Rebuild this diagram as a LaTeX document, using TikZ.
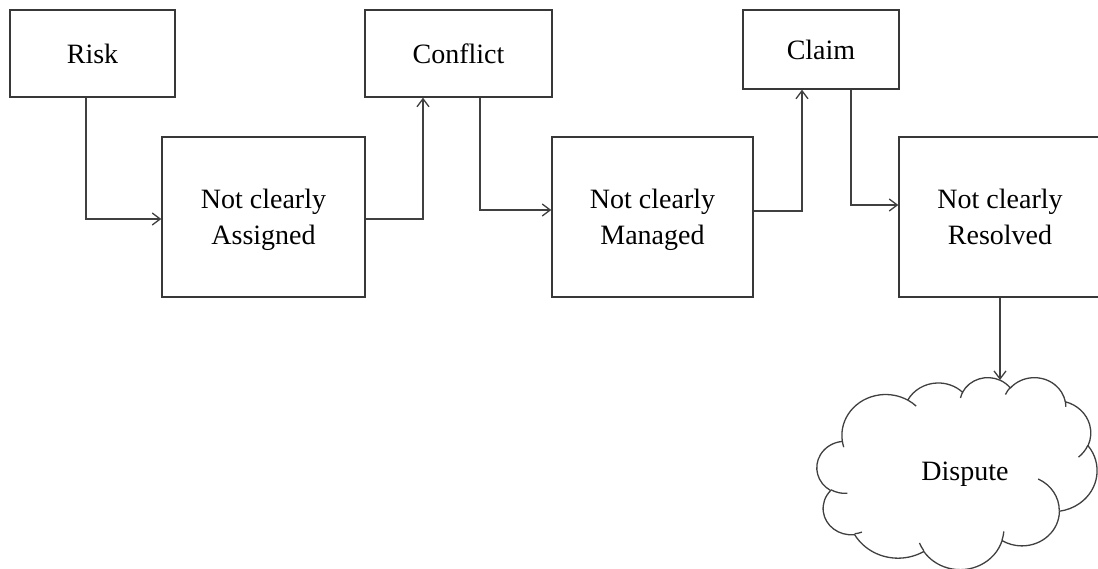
\documentclass[tikz,border=0pt]{standalone}
\usepackage{fontspec}
\setmainfont{Liberation Serif}
\usetikzlibrary{arrows.meta}

% Elliptical arc given by its radii and by the start / sweep of the
% geometric (polar) angle, converted to TikZ's parametric angles.
\newcommand\cloudarc[4]{%
  \pgfextra{%
    \pgfmathparse{atan2((#1)*sin(#3),(#2)*cos(#3))}\xdef\cloudta{\pgfmathresult}%
    \pgfmathparse{atan2((#1)*sin((#3)+(#4)),(#2)*cos((#3)+(#4)))}\xdef\cloudtb{\pgfmathresult}%
    \pgfmathparse{\cloudtb-\cloudta}\xdef\cloudtd{\pgfmathresult}%
    \pgfmathparse{\cloudtd-360*round((\cloudtd-(#4))/360)}\xdef\cloudtd{\pgfmathresult}%
  }%
  arc[start angle=\cloudta, delta angle=\cloudtd, x radius=#1, y radius=#2]%
}

\tikzset{
  boxnode/.style={draw=black!78, line width=1.4pt, fill=white, align=center,
    inner sep=0pt, text depth=0pt, font=\fontsize{28}{36}\selectfont},
  conn/.style={draw=black!75, line width=1.3pt,
    -{Straight Barb[length=8pt,width=12pt]}},
  cloudline/.style={draw=black!75, line width=1.3pt, line join=round},
  label/.style={inner sep=0pt, font=\fontsize{28}{36}\selectfont}
}

\begin{document}
\begin{tikzpicture}[x=1pt, y=-1pt]
  \useasboundingbox (0,0) rectangle (1098,569);
  \clip (0,0) rectangle (1098,569);

  % boxes
  \node[boxnode, minimum width=165pt, minimum height=87pt]  (risk)     at (92.5,53.5)  {Risk};
  \node[boxnode, minimum width=203pt, minimum height=160pt] (assigned) at (263.5,217)  {Not clearly\\Assigned};
  \node[boxnode, minimum width=187pt, minimum height=87pt]  (conflict) at (458.5,53.5) {Conflict};
  \node[boxnode, minimum width=201pt, minimum height=160pt] (managed)  at (652.5,217)  {Not clearly\\Managed};
  \node[boxnode, minimum width=156pt, minimum height=79pt]  (claim)    at (821,49.5)   {Claim};
  \node[boxnode, minimum width=202pt, minimum height=160pt] (resolved) at (1000,217)   {Not clearly\\Resolved};

  % cloud outline with its inner folds
  \begin{scope}[shift={(817,377)}, x=0.6481pt, y=-0.4444pt]
    \draw[cloudline] (39.00,143.70)
      \cloudarc{67.53}{91.90}{-190.4875}{123.7805}
      \cloudarc{53.33}{72.67}{-144.1024}{89.9452}
      \cloudarc{43.65}{59.45}{-145.8079}{99.7230}
      \cloudarc{48.57}{65.95}{-130.9861}{117.2417}
      \cloudarc{53.33}{72.73}{-78.7089}{109.0269}
      \cloudarc{67.75}{92.20}{-46.2673}{130.2690}
      \cloudarc{57.85}{78.67}{0.6250}{114.0333}
      \cloudarc{67.52}{92.15}{22.4516}{115.1726}
      \cloudarc{77.20}{105.43}{66.2426}{75.7110}
      \cloudarc{43.60}{59.18}{-274.9421}{146.7356}
      \cloudarc{43.45}{59.45}{-246.8285}{152.5189}
      -- cycle;
    \draw[cloudline]
      (46.93,261.77)  \cloudarc{43.45}{59.45}{86.7420}{26.4295}
      (69.28,348.99)  \cloudarc{43.60}{59.18}{73.6105}{11.4475}
      (164.78,390.90) \cloudarc{67.52}{92.15}{137.6242}{14.0811}
      (288.27,347.51) \cloudarc{67.52}{92.15}{6.4533}{15.9984}
      (341.29,229.54) \cloudarc{57.85}{78.67}{-70.2924}{70.9174}
      (417.98,153.54) \cloudarc{53.33}{72.73}{30.3180}{27.7515}
      (383.24,54.26)  \cloudarc{48.57}{65.95}{-13.7443}{14.8589}
      (290.78,39.52)  \cloudarc{48.57}{65.95}{-149.1815}{18.1954}
      (221.41,47.20)  \cloudarc{43.65}{59.45}{-163.4943}{17.6864}
      (140.00,51.92)  \cloudarc{67.53}{91.90}{-66.7070}{12.3194}
      (41.27,157.89)  \cloudarc{67.53}{91.90}{157.6544}{11.8582};
  \end{scope}
  \node[label] (dispute) at (965,474) {Dispute};
  \coordinate (cloudtop) at (1000,380);

  % connectors
  \draw[conn] ([xshift=-6.5pt]risk.south) |- ([yshift=-2pt]assigned.west);
  \draw[conn] ([yshift=-2pt]assigned.east) -| ([xshift=-35.5pt]conflict.south);
  \draw[conn] ([xshift=21.5pt]conflict.south) |- ([yshift=7pt]managed.west);
  \draw[conn] ([yshift=6pt]managed.east) -| ([xshift=-19pt]claim.south);
  \draw[conn] ([xshift=30pt]claim.south) |- ([yshift=12pt]resolved.west);
  \draw[conn] (resolved.south) -- (cloudtop);
\end{tikzpicture}
\end{document}
